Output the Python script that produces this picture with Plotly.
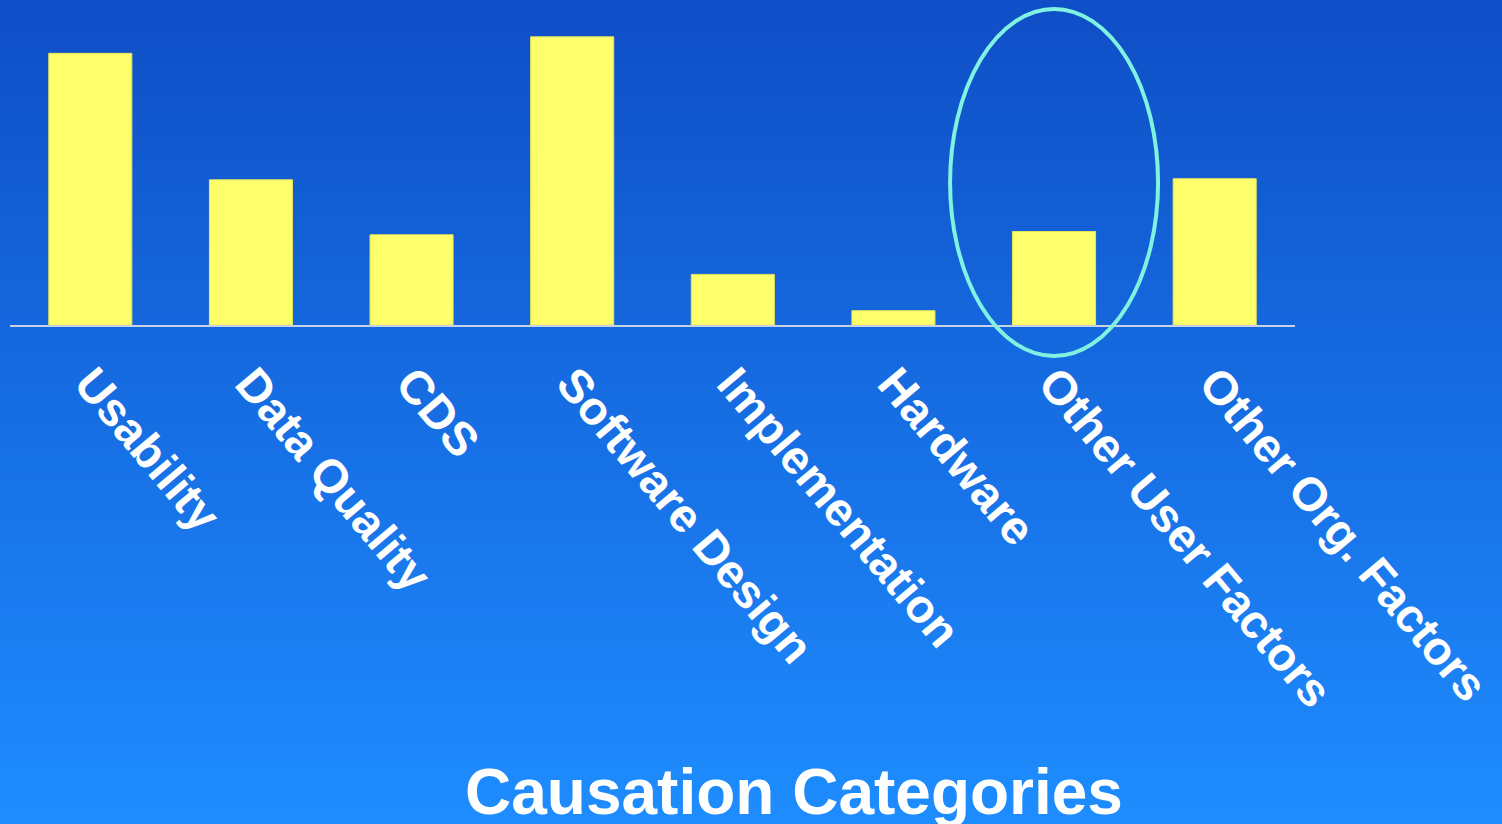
import plotly.graph_objects as go

categories = ["Usability", "Data Quality", "CDS", "Software Design",
              "Implementation", "Hardware", "Other User Factors", "Other Org. Factors"]
values = [24.7, 13.2, 8.2, 26.2, 4.6, 1.3, 8.5, 13.3]
highlight = "Other User Factors"

W, H = 1502, 824
L, R, T, B = 10, 207, 0, 499
pw, ph = W - L - R, H - T - B

fig = go.Figure()
fig.add_trace(go.Bar(
    x=categories, y=values,
    marker=dict(color="#ffff6c", line=dict(color="#e6e65a", width=1)),
    hoverinfo="x+y",
))

# gradient background strips (full canvas)
top = (15, 78, 198)
bot = (30, 141, 255)
n = 120
shapes = []
for i in range(n):
    f = (i + 0.5) / n
    c = tuple(int(round(top[k] + (bot[k] - top[k]) * f)) for k in range(3))
    y_top_px = H * i / n
    y_bot_px = H * (i + 1) / n + 1
    shapes.append(dict(
        type="rect", xref="paper", yref="paper", layer="below",
        x0=-L / pw, x1=(W - L) / pw,
        y0=(ph - y_bot_px) / ph, y1=(ph - y_top_px) / ph,
        fillcolor="rgb(%d,%d,%d)" % c, line=dict(width=0),
    ))

# highlight ellipse around one category
idx = categories.index(highlight)
cx = (idx + 0.5) / len(categories)
hw = 104 / pw
shapes.append(dict(
    type="circle", xref="paper", yref="paper", layer="above",
    x0=cx - hw, x1=cx + hw, y0=(ph - 356) / ph, y1=(ph - 9) / ph,
    line=dict(color="#80f2e2", width=4),
))

fig.update_layout(
    width=W, height=H,
    margin=dict(l=L, r=R, t=T, b=B),
    paper_bgcolor="rgb(30,141,255)",
    plot_bgcolor="rgba(0,0,0,0)",
    bargap=0.483,
    showlegend=False,
    shapes=shapes,
    xaxis=dict(
        type="category", tickangle=50, showgrid=False, zeroline=False,
        showline=True, linecolor="#c8d2e4", linewidth=1.5, ticks="",
        tickfont=dict(family="Liberation Sans", size=47, color="white", weight="bold"),
        ticklabelstandoff=10,
    ),
    yaxis=dict(range=[0, 29.55], visible=False, showgrid=False, zeroline=False),
    annotations=[dict(
        text="Causation Categories", xref="paper", yref="paper",
        x=(794 - L) / pw, y=(ph - 792) / ph, xanchor="center", yanchor="middle",
        showarrow=False,
        font=dict(family="Liberation Sans", size=64, color="white", weight="bold"),
    )],
)

fig.write_html("out.html")
